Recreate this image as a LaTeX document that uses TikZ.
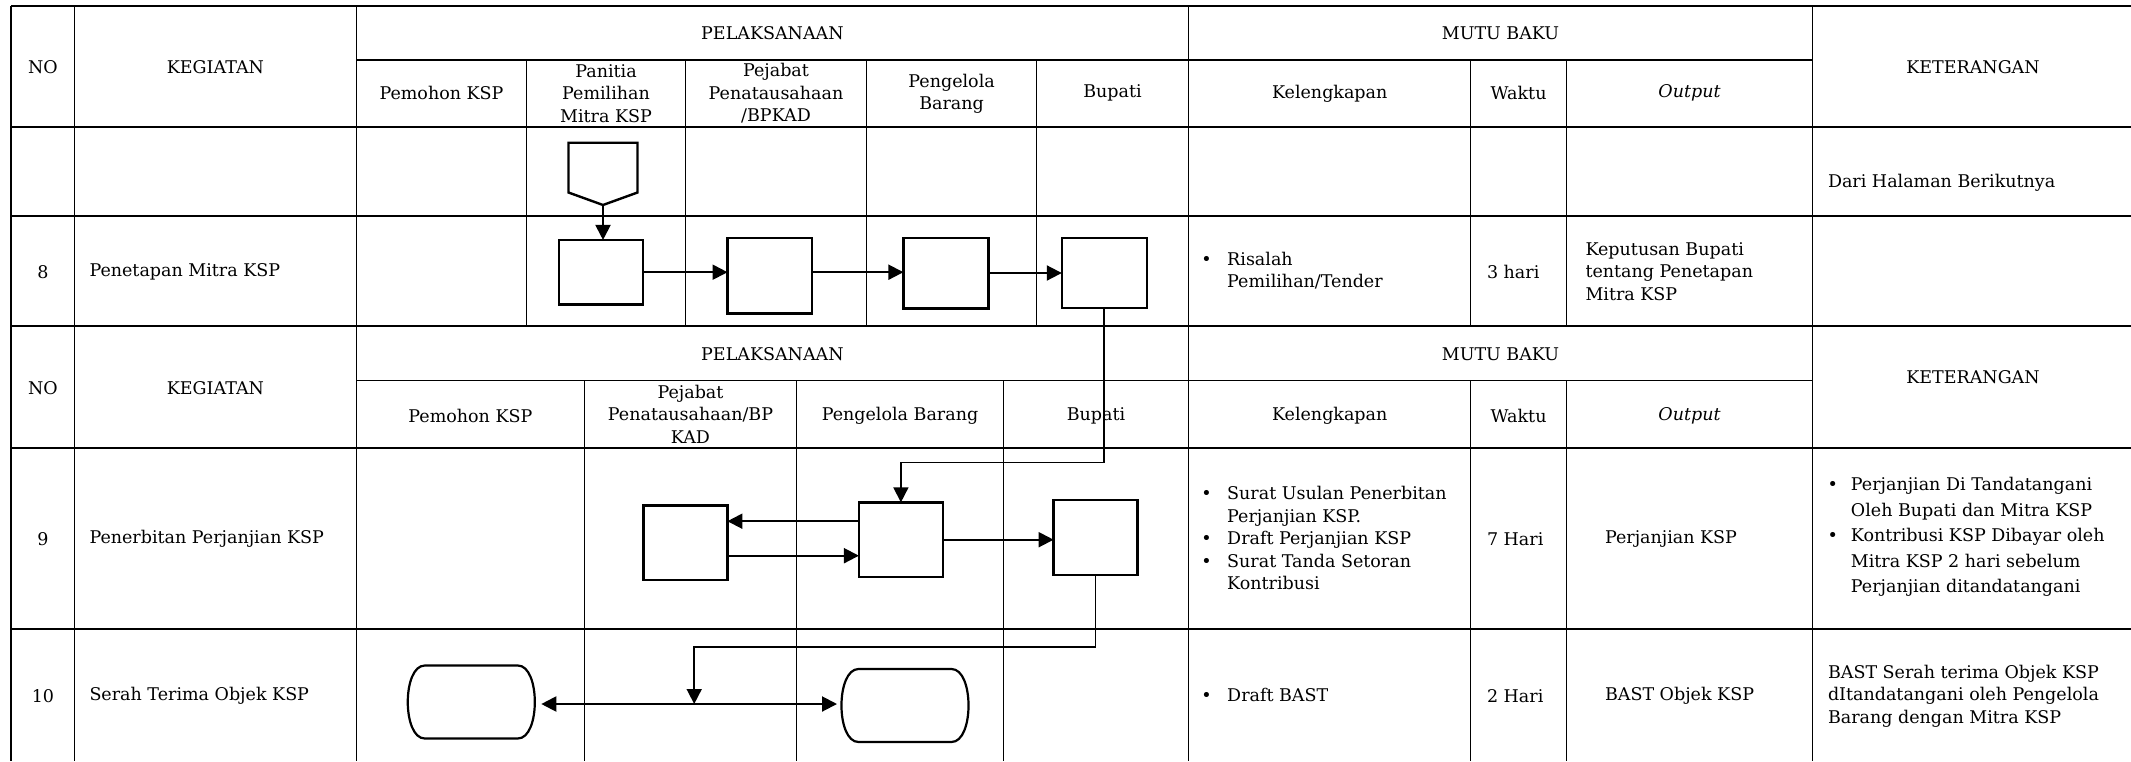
\documentclass[tikz,border=0pt]{standalone}
\usepackage{fontspec}
\setmainfont{DejaVu Serif}
\usetikzlibrary{arrows.meta,calc}

% outline of a terminal symbol (flat top/bottom, curved ends) around a node
\newcommand\termoutline[1]{%
  \draw[line width=2.2pt]
    ($(#1.north west)+(17,0)$) -- ($(#1.north east)+(-17,0)$)
    .. controls ($(#1.north east)+(5.7,0)$) and ($(#1.south east)+(5.7,0)$) .. ($(#1.south east)+(-17,0)$)
    -- ($(#1.south west)+(17,0)$)
    .. controls ($(#1.south west)+(-5.7,0)$) and ($(#1.north west)+(-5.7,0)$) .. cycle;}

\begin{document}
\begin{tikzpicture}[x=1pt,y=-1pt,
  every node/.style={inner sep=0pt, outer sep=0pt},
  txt/.style={font=\fontsize{17.5}{22.5}\selectfont},
  hdr/.style={txt, align=center},
  cell/.style={txt, anchor=west, align=left},
  rule/.style={line width=1.1pt},
  procbox/.style={draw, rectangle, line width=2.4pt},
  endbox/.style={rectangle, minimum width=127pt, minimum height=73pt},
  tip/.tip={Triangle[length=15pt,width=15pt]},
  flow/.style={line width=2pt, -tip},
  flowboth/.style={line width=2pt, tip-tip},
  link/.style={line width=1.7pt, -tip},
]
\useasboundingbox (0,0) rectangle (2131,761);

% ---------- table grid: upper block (rows header, continuation, 8)
\draw[rule] (11,6) -- (2131,6);
\draw[rule] (356.3,60) -- (1812.6,60);
\draw[rule] (11,127) -- (2131,127);
\draw[rule] (11,216) -- (2131,216);
\draw[rule] (11,326) -- (2131,326);
\foreach \x in {11,74.5,356.3,1188.5,1812.6} \draw[rule] (\x,6) -- (\x,326);
\foreach \x in {526.7,685.6,866.7,1036.6,1470.9,1566.4} \draw[rule] (\x,60) -- (\x,326);

% ---------- table grid: lower block (rows header, 9, 10)
\draw[rule] (356.3,380.3) -- (1812.6,380.3);
\draw[rule] (11,448) -- (2131,448);
\draw[rule] (11,629) -- (2131,629);
\foreach \x in {11,74.5,356.3,1188.5,1812.6} \draw[rule] (\x,326) -- (\x,761);
\foreach \x in {584.5,796.4,1003.5,1470.9,1566.4} \draw[rule] (\x,380.3) -- (\x,761);

% ---------- upper header
\node[hdr] (noA)   at (43,66.7)     {NO};
\node[hdr] (kegA)  at (215.4,66.7)  {KEGIATAN};
\node[hdr] (pelA)  at (772.4,33.3)  {PELAKSANAAN};
\node[hdr] (mutuA) at (1500.5,33.3) {MUTU BAKU};
\node[hdr] (ketA)  at (1973,66.7)   {KETERANGAN};
\node[hdr] (pemA)  at (441.5,93.3)  {Pemohon KSP};
\node[hdr] (panA)  at (606,93.5)    {Panitia\\Pemilihan\\Mitra KSP};
\node[hdr] (pejA)  at (776,93.5)    {Pejabat\\Penatausahaan\\/BPKAD};
\node[hdr] (pengA) at (951.6,94)    {Pengelola\\Barang};
\node[hdr] (bupA)  at (1112.5,93.3) {Bupati};
\node[hdr] (kelA)  at (1329.7,93.3) {Kelengkapan};
\node[hdr] (wakA)  at (1518.6,93.3) {Waktu};
\node[hdr] (outA)  at (1689.5,93.3) {\itshape Output};

% ---------- continuation row and row 8
\node[cell] (ketC) at (1828,182.7) {Dari Halaman Berikutnya};
\node[hdr]  (no8)  at (43,271.7)   {8};
\node[cell] (keg8) at (89.5,271.7) {Penetapan Mitra KSP};
\node[cell] (kel8) at (1201.4,272) {\begin{tabular}{@{}l@{\hspace{15.5pt}}l@{}}•&Risalah\\&Pemilihan/Tender\end{tabular}};
\node[cell] (wak8) at (1487,271.7) {3 hari};
\node[cell] (out8) at (1585.5,271.3) {Keputusan Bupati\\tentang Penetapan\\Mitra KSP};

% ---------- lower header
\node[hdr] (noB)   at (43,388.3)     {NO};
\node[hdr] (kegB)  at (215.4,388.3)  {KEGIATAN};
\node[hdr] (pelB)  at (772.4,354.3)  {PELAKSANAAN};
\node[hdr] (mutuB) at (1500.5,354.3) {MUTU BAKU};
\node[hdr] (ketB)  at (1973,376.7)   {KETERANGAN};
\node[hdr] (pemB)  at (470.4,415.7)  {Pemohon KSP};
\node[hdr] (pejB)  at (690.5,414)    {Pejabat\\Penatausahaan/BP\\KAD};
\node[hdr] (pengB) at (900,415.7)    {Pengelola Barang};
\node[hdr] (bupB)  at (1096,415.7)   {Bupati};
\node[hdr] (kelB)  at (1329.7,415.7) {Kelengkapan};
\node[hdr] (wakB)  at (1518.6,415.7) {Waktu};
\node[hdr] (outB)  at (1689.5,415.7) {\itshape Output};

% ---------- row 9
\node[hdr]  (no9)  at (43,539)     {9};
\node[cell] (keg9) at (89.5,539)   {Penerbitan Perjanjian KSP};
\node[cell] (kel9) at (1201.4,540) {\begin{tabular}{@{}l@{\hspace{15.5pt}}l@{}}•&Surat Usulan Penerbitan\\&Perjanjian KSP.\\•&Draft Perjanjian KSP\\•&Surat Tanda Setoran\\&Kontribusi\end{tabular}};
\node[cell] (wak9) at (1487,539)   {7 Hari};
\node[cell] (out9) at (1605,539)   {Perjanjian KSP};
\node[cell] (ket9) at (1827.6,536.7) {\renewcommand\arraystretch{1.13}\begin{tabular}{@{}l@{\hspace{13pt}}l@{}}•&Perjanjian Di Tandatangani\\&Oleh Bupati dan Mitra KSP\\•&Kontribusi KSP Dibayar oleh\\&Mitra KSP 2 hari sebelum\\&Perjanjian ditandatangani\end{tabular}};

% ---------- row 10
\node[hdr]  (no10)  at (43,695.7)     {10};
\node[cell] (keg10) at (89.5,695.7)   {Serah Terima Objek KSP};
\node[cell] (kel10) at (1201.4,696.7) {\begin{tabular}{@{}l@{\hspace{15.5pt}}l@{}}•&Draft BAST\end{tabular}};
\node[cell] (wak10) at (1487,696)     {2 Hari};
\node[cell] (out10) at (1605,696)     {BAST Objek KSP};
\node[cell] (ket10) at (1828,696)     {BAST Serah terima Objek KSP\\dItandatangani oleh Pengelola\\Barang dengan Mitra KSP};

% ---------- flow symbols
% off-page connector (incoming from the next page)
\draw[line width=2.4pt, line join=miter] (568.5,142.7) -- (637.5,142.7) -- (637.5,192.5) -- (603,205) -- (568.5,192.5) -- cycle;
\coordinate (offtip) at (603,205);

\node[procbox, minimum width=84pt, minimum height=64.5pt] (boxA) at (601,272.2) {};
\node[procbox, minimum width=84.5pt, minimum height=75.6pt] (boxB) at (769.8,275.5) {};
\node[procbox, minimum width=85pt, minimum height=70.6pt] (boxC) at (945.9,273) {};
\node[procbox, minimum width=85pt, minimum height=70pt] (boxD) at (1104.3,272.7) {};
\node[procbox, minimum width=84pt, minimum height=74.7pt] (boxE) at (900.9,539.7) {};
\node[procbox, minimum width=84pt, minimum height=74.7pt] (boxF) at (1095.6,537.4) {};
\node[procbox, minimum width=84pt, minimum height=74.7pt] (boxG) at (685.4,542.7) {};
\node[endbox] (termL) at (471.3,702) {};
\node[endbox] (termR) at (905,705.5) {};
\termoutline{termL}
\termoutline{termR}

% ---------- connectors
\draw[flow] (offtip) -- (offtip |- boxA.north);
\draw[flow] (boxA.east) -- (boxA.east -| boxB.west);
\draw[flow] (boxB.east |- boxA.east) -- (boxA.east -| boxC.west);
\draw[flow] (boxC.east) -- (boxC.east -| boxD.west);
\draw[link] (boxD.south) |- ([yshift=40pt]boxE.north) -- (boxE.north);
\draw[flow] (boxE.east) -- (boxE.east -| boxF.west);
\coordinate (eUp) at ([yshift=18.5pt]boxE.west);
\coordinate (eDn) at ([yshift=-16pt]boxE.west);
\draw[flow] (eUp) -- (eUp -| boxG.east);
\draw[flow] (eDn -| boxG.east) -- (eDn);
\coordinate (drop) at (694.2,704);
\draw[link] (boxF.south) |- ([yshift=57pt]drop) -- (drop);
\coordinate (lineL) at ([xshift=6.5pt]termL.east |- drop);
\coordinate (lineR) at ([xshift=-4.5pt]termR.west |- drop);
\draw[flowboth] (lineL) -- (lineR);
\end{tikzpicture}
\end{document}
